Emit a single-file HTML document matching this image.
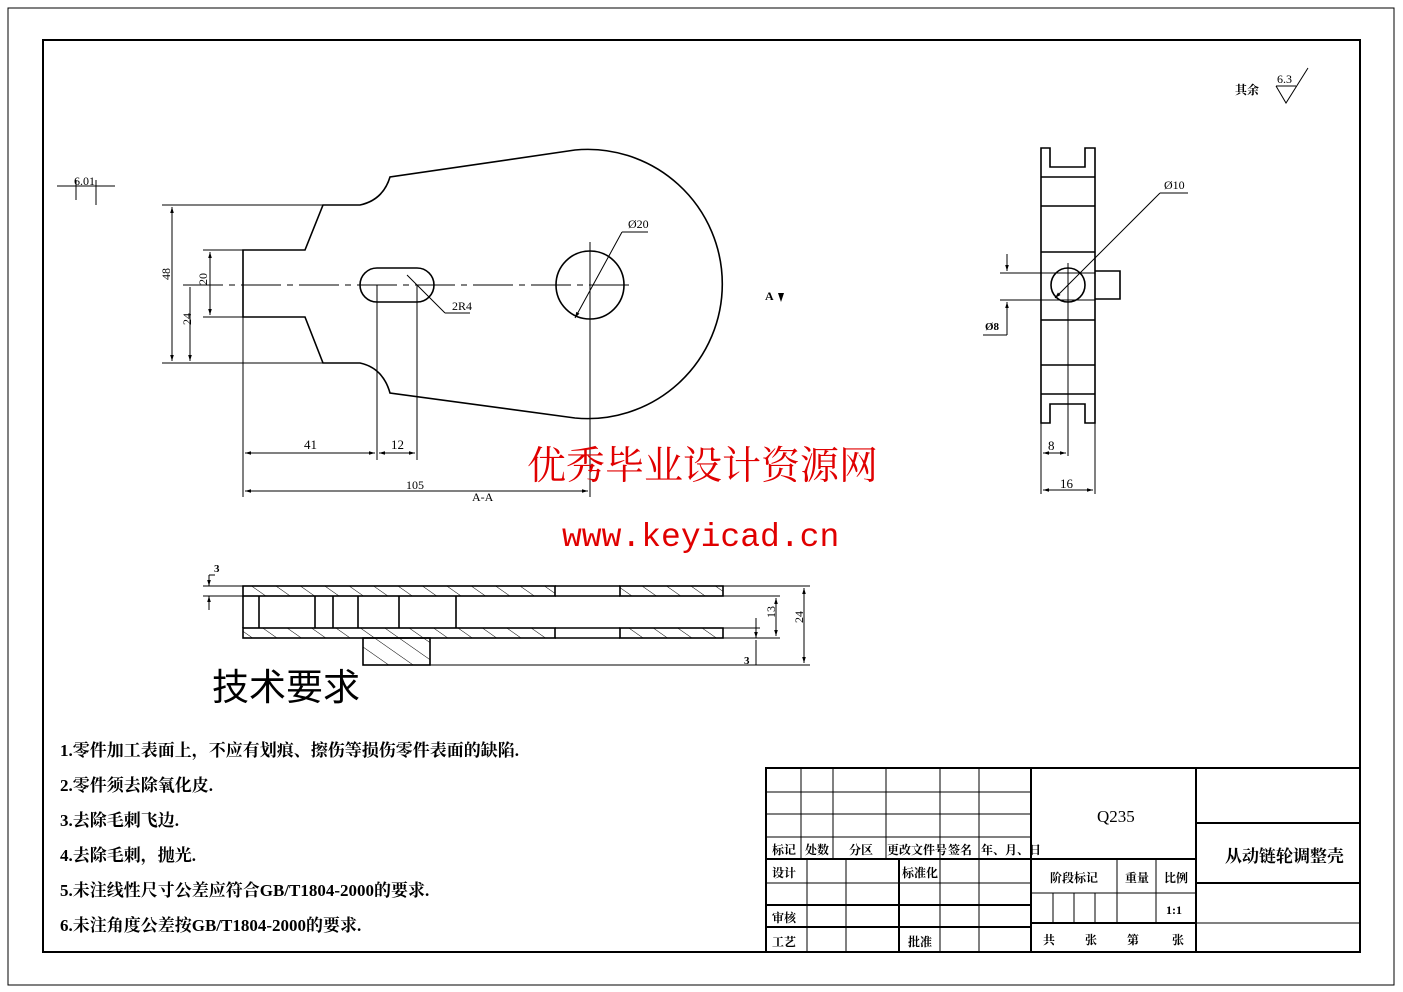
<!DOCTYPE html>
<html><head><meta charset="utf-8"><style>
html,body{margin:0;padding:0;background:#fff}
svg{display:block}
text{font-family:"Liberation Serif","Noto Serif CJK SC","Noto Sans CJK SC",serif;fill:#000}
</style></head><body>
<svg width="1403" height="992" viewBox="0 0 1403 992" xmlns="http://www.w3.org/2000/svg">
<defs>
<pattern id="h" patternUnits="userSpaceOnUse" width="14" height="14" patternTransform="rotate(-55)">
<line x1="0" y1="0" x2="0" y2="14" stroke="#000" stroke-width="1"/></pattern>
<marker id="a" viewBox="0 0 10 10" refX="10" refY="5" markerWidth="8" markerHeight="6" orient="auto-start-reverse"><path d="M0,2 L10,5 L0,8z" fill="#000"/></marker>
</defs>
<rect x="8" y="8" width="1386" height="977" fill="none" stroke="#000" stroke-width="1"/>
<rect x="43" y="40" width="1317" height="912" fill="none" stroke="#000" stroke-width="2"/>

<text x="1235" y="94" font-size="12" font-weight="bold">其余</text>
<path d="M1276,86 L1286,103 L1308,68" fill="none" stroke="#000"/>
<line x1="1276" y1="86" x2="1296" y2="86" stroke="#000"/>
<text x="1277" y="83" font-size="12">6.3</text>

<g stroke="#000" fill="none">
<line x1="57" y1="186" x2="115" y2="186"/>
<line x1="76" y1="180" x2="76" y2="200"/><line x1="96" y1="180" x2="96" y2="205"/>
</g>
<text x="74" y="185" font-size="12">6.01</text>

<g fill="none" stroke="#000" stroke-width="1.6">
<path d="M243,250 L305,250 L323,205 L360,205 Q383,200 390,177 L575,150 A134.6,134.6 0 1 1 575,418 L390,393 Q383,368 360,363 L323,363 L305,317 L243,317 Z"/>
<path d="M377,268 L417,268 A17,17 0 0 1 417,302 L377,302 A17,17 0 0 1 377,268 Z"/>
<circle cx="590" cy="285" r="34"/>
</g>
<g fill="none" stroke="#000" stroke-width="1">
<line x1="183" y1="285" x2="630" y2="285" stroke-dasharray="40,6,6,6"/>
<line x1="590" y1="242" x2="590" y2="497"/>
<line x1="162" y1="205" x2="323" y2="205"/><line x1="162" y1="363" x2="323" y2="363"/>
<line x1="203" y1="250" x2="243" y2="250"/><line x1="203" y1="317" x2="243" y2="317"/>
<line x1="172" y1="207" x2="172" y2="361" marker-start="url(#a)" marker-end="url(#a)"/>
<line x1="210" y1="252" x2="210" y2="315" marker-start="url(#a)" marker-end="url(#a)"/>
<line x1="190" y1="287" x2="190" y2="361" marker-end="url(#a)"/>
<line x1="243" y1="317" x2="243" y2="497"/>
<line x1="377" y1="285" x2="377" y2="460"/><line x1="417" y1="285" x2="417" y2="460"/>
<line x1="245" y1="453" x2="375" y2="453" marker-start="url(#a)" marker-end="url(#a)"/>
<line x1="379" y1="453" x2="415" y2="453" marker-start="url(#a)" marker-end="url(#a)"/>
<line x1="245" y1="491" x2="588" y2="491" marker-start="url(#a)" marker-end="url(#a)"/>
<line x1="407" y1="275" x2="445" y2="313"/><line x1="445" y1="313" x2="470" y2="313"/>
<line x1="575" y1="318" x2="622" y2="232" marker-start="url(#a)"/><line x1="622" y1="232" x2="648" y2="232"/>
</g>
<text x="170" y="290" font-size="12" transform="rotate(-90 165 285)">48</text>
<text x="186" y="330" font-size="12" transform="rotate(-90 186 325)">24</text>
<text x="206" y="290" font-size="12" transform="rotate(-90 204 287)">20</text>
<text x="304" y="449" font-size="13">41</text>
<text x="391" y="449" font-size="13">12</text>
<text x="406" y="489" font-size="12">105</text>
<text x="472" y="501" font-size="12">A-A</text>
<text x="452" y="310" font-size="12">2R4</text>
<text x="628" y="228" font-size="12">Ø20</text>
<text x="765" y="300" font-size="12" font-weight="bold">A</text>
<path d="M778,293 L784,293 L781,302z" fill="#000"/>

<g fill="none" stroke="#000" stroke-width="1.6">
<path d="M1041,148 L1050,148 L1050,167 L1085,167 L1085,148 L1095,148 L1095,423 L1085,423 L1085,404 L1050,404 L1050,423 L1041,423 Z"/>
<line x1="1041" y1="177" x2="1095" y2="177"/><line x1="1041" y1="206" x2="1095" y2="206"/>
<line x1="1041" y1="252" x2="1095" y2="252"/><line x1="1041" y1="320" x2="1095" y2="320"/>
<line x1="1041" y1="365" x2="1095" y2="365"/><line x1="1041" y1="394" x2="1095" y2="394"/>
<circle cx="1068" cy="285" r="17"/>
<path d="M1095,271 L1120,271 L1120,299 L1095,299"/>
</g>
<g fill="none" stroke="#000" stroke-width="1">
<line x1="1000" y1="273" x2="1095" y2="273"/><line x1="1000" y1="300" x2="1095" y2="300"/>
<line x1="1007" y1="254" x2="1007" y2="271" marker-end="url(#a)"/>
<line x1="1007" y1="335" x2="1007" y2="302" marker-end="url(#a)"/>
<line x1="983" y1="335" x2="1007" y2="335"/>
<line x1="1068" y1="263" x2="1068" y2="456"/>
<line x1="1041" y1="423" x2="1041" y2="494"/><line x1="1095" y1="423" x2="1095" y2="494"/>
<line x1="1043" y1="453" x2="1066" y2="453" marker-start="url(#a)" marker-end="url(#a)"/>
<line x1="1043" y1="490" x2="1093" y2="490" marker-start="url(#a)" marker-end="url(#a)"/>
<line x1="1055" y1="298" x2="1160" y2="193" marker-start="url(#a)"/><line x1="1160" y1="193" x2="1188" y2="193"/>
</g>
<text x="1164" y="189" font-size="12">Ø10</text>
<text x="985" y="330" font-size="11" font-weight="bold">Ø8</text>
<text x="1048" y="450" font-size="13">8</text>
<text x="1060" y="488" font-size="13">16</text>

<g stroke="#000" stroke-width="1.6">
<rect x="243" y="586" width="312" height="10" fill="url(#h)"/>
<rect x="620" y="586" width="103" height="10" fill="url(#h)"/>
<rect x="243" y="628" width="312" height="10" fill="url(#h)"/>
<rect x="620" y="628" width="103" height="10" fill="url(#h)"/>
<rect x="363" y="638" width="67" height="27" fill="url(#h)"/>
<line x1="555" y1="586" x2="620" y2="586"/><line x1="555" y1="596" x2="620" y2="596"/>
<line x1="555" y1="628" x2="620" y2="628"/><line x1="555" y1="638" x2="620" y2="638"/>
<line x1="243" y1="596" x2="243" y2="628"/>
<line x1="259" y1="596" x2="259" y2="628"/><line x1="315" y1="596" x2="315" y2="628"/>
<line x1="333" y1="596" x2="333" y2="628"/><line x1="358" y1="596" x2="358" y2="628"/>
<line x1="399" y1="596" x2="399" y2="628"/><line x1="456" y1="596" x2="456" y2="628"/>
</g>
<g stroke="#000" stroke-width="1" fill="none">
<line x1="203" y1="586" x2="243" y2="586"/><line x1="203" y1="596" x2="243" y2="596"/>
<line x1="723" y1="586" x2="810" y2="586"/><line x1="723" y1="596" x2="780" y2="596"/>
<line x1="723" y1="638" x2="780" y2="638"/><line x1="723" y1="628" x2="760" y2="628"/>
<line x1="430" y1="665" x2="810" y2="665"/>
<line x1="209" y1="575" x2="209" y2="586" marker-end="url(#a)"/>
<line x1="209" y1="610" x2="209" y2="596" marker-end="url(#a)"/>
<line x1="209" y1="575" x2="215" y2="575"/>
<line x1="804" y1="588" x2="804" y2="663" marker-start="url(#a)" marker-end="url(#a)"/>
<line x1="776" y1="598" x2="776" y2="636" marker-start="url(#a)" marker-end="url(#a)"/>
<line x1="756" y1="618" x2="756" y2="638" marker-end="url(#a)"/>
<line x1="756" y1="665" x2="756" y2="640"/>
</g>
<text x="214" y="572" font-size="11" font-weight="bold">3</text>
<text x="744" y="664" font-size="11" font-weight="bold">3</text>
<text x="772" y="625" font-size="12" transform="rotate(-90 770 620)">13</text>
<text x="800" y="630" font-size="12" transform="rotate(-90 798 625)">24</text>

<text x="527" y="479" font-size="39" style="fill:#e00000;font-family:'Noto Serif CJK SC','Noto Sans CJK SC',serif">优秀毕业设计资源网</text>
<text x="562" y="546" font-size="33" style="fill:#e00000;font-family:'Liberation Mono',monospace">www.keyicad.cn</text>

<text x="212" y="700" font-size="37" style="font-family:'Noto Sans CJK SC',sans-serif">技术要求</text>
<g font-size="17" font-weight="bold">
<text x="60" y="756">1.零件加工表面上，不应有划痕、擦伤等损伤零件表面的缺陷.</text>
<text x="60" y="791">2.零件须去除氧化皮.</text>
<text x="60" y="826">3.去除毛刺飞边.</text>
<text x="60" y="861">4.去除毛刺，抛光.</text>
<text x="60" y="896">5.未注线性尺寸公差应符合GB/T1804-2000的要求.</text>
<text x="60" y="931">6.未注角度公差按GB/T1804-2000的要求.</text>
</g>

<g stroke="#000" fill="none">
<rect x="766" y="768" width="594" height="184" stroke-width="2"/>
<line x1="1031" y1="768" x2="1031" y2="952" stroke-width="2"/>
<line x1="1196" y1="768" x2="1196" y2="952" stroke-width="2"/>
<line x1="766" y1="792" x2="1031" y2="792"/><line x1="766" y1="814" x2="1031" y2="814"/>
<line x1="766" y1="837" x2="1031" y2="837"/>
<line x1="766" y1="859" x2="1196" y2="859" stroke-width="2"/>
<line x1="766" y1="883" x2="1031" y2="883"/><line x1="766" y1="905" x2="1031" y2="905" stroke-width="2"/>
<line x1="766" y1="927" x2="1031" y2="927" stroke-width="2"/>
<line x1="801" y1="768" x2="801" y2="859"/><line x1="833" y1="768" x2="833" y2="859"/>
<line x1="886" y1="768" x2="886" y2="859"/><line x1="940" y1="768" x2="940" y2="859"/>
<line x1="979" y1="768" x2="979" y2="859"/>
<line x1="807" y1="859" x2="807" y2="952"/><line x1="846" y1="859" x2="846" y2="952"/>
<line x1="899" y1="859" x2="899" y2="952" stroke-width="2"/><line x1="940" y1="859" x2="940" y2="952"/>
<line x1="979" y1="859" x2="979" y2="952"/>
<line x1="1031" y1="893" x2="1196" y2="893"/><line x1="1031" y1="923" x2="1196" y2="923" stroke-width="2"/>
<line x1="1117" y1="859" x2="1117" y2="923"/><line x1="1156" y1="859" x2="1156" y2="923"/>
<line x1="1053" y1="893" x2="1053" y2="923"/><line x1="1074" y1="893" x2="1074" y2="923"/>
<line x1="1095" y1="893" x2="1095" y2="923"/>
<line x1="1196" y1="823" x2="1360" y2="823" stroke-width="2"/>
<line x1="1196" y1="883" x2="1360" y2="883" stroke-width="2"/>
<line x1="1196" y1="923" x2="1360" y2="923"/>
</g>
<g font-size="12" font-weight="bold">
<text x="772" y="854">标记</text><text x="805" y="854">处数</text><text x="849" y="854">分区</text>
<text x="887" y="854">更改文件号</text><text x="948" y="854">签名</text><text x="981" y="854">年、月、日</text>
<text x="772" y="877">设计</text><text x="902" y="877">标准化</text>
<text x="772" y="922">审核</text>
<text x="772" y="946">工艺</text><text x="908" y="946">批准</text>
<text x="1050" y="882">阶段标记</text><text x="1125" y="882">重量</text><text x="1164" y="882">比例</text>
<text x="1166" y="914">1:1</text>
<text x="1043" y="944">共</text><text x="1085" y="944">张</text><text x="1127" y="944">第</text><text x="1172" y="944">张</text>
</g>
<text x="1097" y="822" font-size="17">Q235</text>
<text x="1225" y="862" font-size="17" font-weight="bold">从动链轮调整壳</text>
</svg>
</body></html>
